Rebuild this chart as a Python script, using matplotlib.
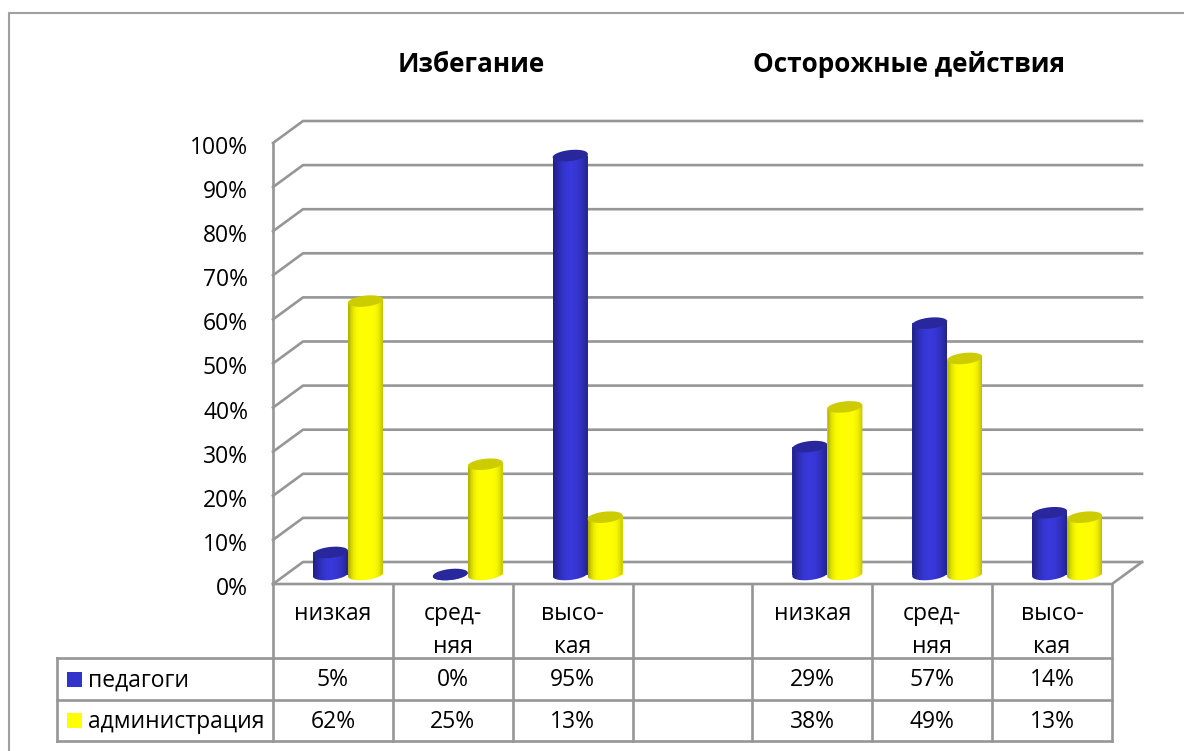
import numpy as np
import matplotlib
matplotlib.use("Agg")
import matplotlib.pyplot as plt
from matplotlib.patches import Polygon, Rectangle
from matplotlib.transforms import ScaledTranslation

W, H = 1184, 751
plt.rcParams["font.family"] = ["Open Sans", "DejaVu Sans"]

categories = ["низкая", "сред-\nняя", "высо-\nкая", "", "низкая", "сред-\nняя", "высо-\nкая"]
teachers = [5, 0, 95, None, 29, 57, 14]
admin = [62, 25, 13, None, 38, 49, 13]
series_names = ["педагоги", "администрация"]
group_titles = ["Избегание", "Осторожные действия"]
y_ticks = list(range(0, 101, 10))

GREY = "#969696"
BLUE = "#3333cc"
YELLOW = "#ffff00"

# plot area of the front plane, in pixels
LEFT, RIGHT, BOTTOM, TOP = 273, 1112, 584, 143
DX = 30 / ((RIGHT - LEFT) / 7)      # wall depth in category units
DY = 22 / ((BOTTOM - TOP) / 100)    # wall depth in percent
BASE = 9.5 / ((BOTTOM - TOP) / 100)   # cylinders stand a little behind the front edge
SHIFT = 15 / ((RIGHT - LEFT) / 7)
BAR_W = 35 / ((RIGHT - LEFT) / 7)
CAP_H = 1.25
TILT = 0.4


def ramp(edge, mid, power):
    edge, mid = np.array(edge), np.array(mid)
    t = np.linspace(0, 1, 64)
    k = np.clip(1 - (np.abs(t - 0.52) / 0.5) ** power, 0, 1)[None, :, None]
    return edge + (mid - edge) * k


def cylinder(ax, x, value, color, edge, mid, cap, power):
    x0, x1 = x - BAR_W / 2, x + BAR_W / 2
    top = BASE + value
    ax.bar(x, value, BAR_W, bottom=BASE, color=color, clip_on=False, zorder=3)

    t = np.linspace(np.pi, 2 * np.pi, 40)
    ex = x + BAR_W / 2 * np.cos(t)
    low = np.column_stack([ex, BASE + CAP_H * np.sin(t) + TILT * np.cos(t)])
    high = np.column_stack([ex[::-1], top + TILT * np.cos(t[::-1])])
    body = Polygon(np.vstack([low, high]), closed=True, transform=ax.transData,
                   facecolor="none", edgecolor="none")
    ax.add_patch(body)
    img = ax.imshow(ramp(edge, mid, power), extent=(x0, x1, BASE - 5, top + 5),
                    aspect="auto", zorder=3, interpolation="bilinear")
    img.set_clip_path(body)

    t = np.linspace(0, 2 * np.pi, 80)
    ax.add_patch(Polygon(np.column_stack([x + BAR_W / 2 * np.cos(t),
                                          top + CAP_H * np.sin(t) + TILT * np.cos(t)]),
                         closed=True, facecolor=cap, edgecolor="none", zorder=3, clip_on=False))


fig = plt.figure(figsize=(W / 100, H / 100), dpi=100, facecolor="white")

# page layer in pixel coordinates: frame, titles and table
page = fig.add_axes([0, 0, 1, 1])
page.set_xlim(0, W)
page.set_ylim(H, 0)
page.axis("off")
page.plot([8.5, 8.5, 1190], [760, 12.5, 12.5], color="#a0a0a0", lw=1.5)

col_x = np.linspace(LEFT, RIGHT, len(categories) + 1)
rows = [BOTTOM, 658, 700, 741]
for y in rows[1:]:
    page.plot([57, RIGHT], [y, y], color=GREY, lw=1.9)
page.plot([57, 57], [rows[1], rows[3]], color=GREY, lw=1.9)
for x in col_x:
    page.plot([x, x], [BOTTOM, rows[3]], color=GREY, lw=1.9)

for i, name in enumerate(categories):
    cx = (col_x[i] + col_x[i + 1]) / 2
    page.text(cx, 602, name, ha="center", va="top", fontsize=16.5, linespacing=1.48, color="black")
    for vals, y in ((teachers, 680.5), (admin, 721.5)):
        if vals[i] is not None:
            page.text(cx, y, f"{vals[i]}%", ha="center", va="center", fontsize=16.5, color="black")

for name, color, y in zip(series_names, (BLUE, YELLOW), (679, 720)):
    page.add_patch(Rectangle((67, y - 7.5), 15, 15, facecolor=color, edgecolor="none"))
    page.text(88, y + 1.5, name, ha="left", va="center", fontsize=16.5, color="black")

page.text(471, 64, group_titles[0], ha="center", va="center", fontsize=18.8, fontweight="bold")
page.text(909, 64, group_titles[1], ha="center", va="center", fontsize=18.8, fontweight="bold")

# chart layer on the library's own scales
ax = fig.add_axes([LEFT / W, 1 - BOTTOM / H, (RIGHT - LEFT) / W, (BOTTOM - TOP) / H])
ax.patch.set_alpha(0)
ax.set_xlim(0, len(categories))
ax.set_ylim(0, 100)
for spine in ax.spines.values():
    spine.set_visible(False)
ax.set_xticks([])
ax.set_yticks(y_ticks)
ax.set_yticklabels([f"{v}%" for v in y_ticks], fontsize=16.5)
ax.tick_params(axis="y", length=0, pad=18)
nudge = ScaledTranslation(0, -2 / 100, fig.dpi_scale_trans)
for label in ax.get_yticklabels():
    label.set_transform(label.get_transform() + nudge)

n = len(categories)
for v in y_ticks:
    ax.plot([0, DX, n + DX], [v, v + DY, v + DY], color=GREY, lw=1.9, clip_on=False, zorder=1)
ax.plot([0, 0], [0, 100], color=GREY, lw=1.9, clip_on=False, zorder=1)
ax.plot([0, n, n + DX], [0, 0, DY], color=GREY, lw=1.9, clip_on=False, zorder=1)

for i in range(n):
    c = i + 0.5 + SHIFT
    if teachers[i] is not None:
        cylinder(ax, c - BAR_W / 2, teachers[i], BLUE, (0.13, 0.13, 0.52), (0.22, 0.22, 0.86), "#28289c", 2)
    if admin[i] is not None:
        cylinder(ax, c + BAR_W / 2, admin[i], YELLOW, (0.70, 0.70, 0.0), (1.0, 1.0, 0.0), "#cccc00", 4)
ax.set_xlim(0, n)
ax.set_ylim(0, 100)

fig.savefig("out.png", dpi=100)
